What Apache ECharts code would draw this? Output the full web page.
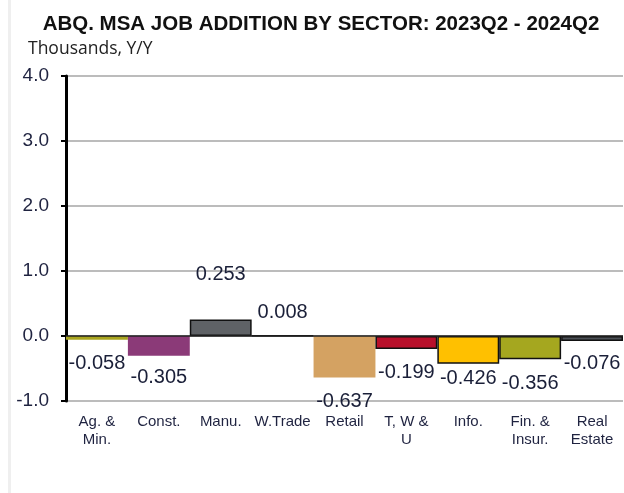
<!DOCTYPE html>
<html>
<head>
<meta charset="utf-8">
<script src="https://cdn.jsdelivr.net/npm/echarts@6/dist/echarts.min.js"></script>
<style>
  html, body { margin: 0; padding: 0; background: #ffffff; }
  #chart { width: 624px; height: 493px; }
</style>
</head>
<body>
<div id="chart"></div>
<script>
// Sector job additions, thousands Y/Y
const sectors = ['Ag. &\nMin.', 'Const.', 'Manu.', 'W.Trade', 'Retail', 'T, W &\nU', 'Info.', 'Fin. &\nInsur.', 'Real\nEstate'];
const changes = [-0.058, -0.305, 0.253, 0.008, -0.637, -0.199, -0.426, -0.356, -0.076];
const barColors = ['#a9a51f', '#8b3a78', '#5f6266', '#5f6266', '#d4a262', '#b8102b', '#ffc000', '#a5a71f', '#4d5157'];
const barOutlined = [false, false, true, true, false, true, true, true, true];
const labelGap = [14, 12, 35, 13, 14, 14, 5, 14, 13];
const yTicks = [-1, 0, 1, 2, 3, 4];

const chart = echarts.init(document.getElementById('chart'), null, { renderer: 'canvas' });

const barData = changes.map((v, i) => ({
  value: v,
  itemStyle: {
    color: barColors[i],
    borderColor: barOutlined[i] ? '#111111' : barColors[i],
    borderWidth: barOutlined[i] ? 1.5 : 0
  },
  label: {
    position: v >= 0 ? 'top' : 'bottom',
    distance: labelGap[i]
  }
}));

chart.setOption({
  backgroundColor: '#ffffff',
  animation: false,
  title: {
    text: 'ABQ. MSA JOB ADDITION BY SECTOR: 2023Q2 - 2024Q2',
    left: 316,
    textAlign: 'center',
    top: 9,
    textStyle: { fontFamily: 'Liberation Sans, Arial', fontWeight: 'bold', fontSize: 20.5, color: '#111111' }
  },
  graphic: [
    { type: 'rect', left: 8, top: 0, shape: { width: 3, height: 493 }, style: { fill: '#efefef' }, silent: true },
    {
      type: 'text', left: 28, top: 40,
      style: { text: 'Thousands, Y/Y', fontFamily: 'Open Sans', fontSize: 17.5, fill: '#222222' }
    }
  ],
  grid: { left: 66, right: 1, top: 76, bottom: 92, containLabel: false },
  xAxis: {
    type: 'category',
    data: sectors,
    axisLine: { show: false, onZero: false },
    axisTick: { show: false },
    axisLabel: {
      interval: 0,
      margin: 12,
      fontFamily: 'Liberation Sans, Arial',
      fontSize: 15,
      lineHeight: 18,
      color: '#1f2340'
    }
  },
  yAxis: {
    type: 'value',
    min: yTicks[0],
    max: yTicks[yTicks.length - 1],
    interval: 1,
    axisLine: { show: true, lineStyle: { color: '#000000', width: 3 } },
    axisTick: { show: true, inside: false, length: 5, lineStyle: { color: '#000000', width: 2 } },
    axisLabel: {
      margin: 17,
      fontFamily: 'Liberation Sans, Arial',
      fontSize: 19,
      color: '#1f2340',
      formatter: v => v.toFixed(1)
    },
    splitLine: { show: true, lineStyle: { color: '#a6a6a6', width: 1.5 } }
  },
  series: [{
    type: 'bar',
    data: barData,
    barCategoryGap: '0%',
    label: {
      show: true,
      fontFamily: 'Liberation Sans, Arial',
      fontSize: 20,
      color: '#1a1f38',
      formatter: p => p.value.toFixed(3)
    },
    markLine: {
      silent: true,
      symbol: 'none',
      label: { show: false },
      lineStyle: { color: '#222222', width: 1.5, type: 'solid' },
      data: [{ yAxis: 0 }]
    },
    z: 3
  }]
});
</script>
</body>
</html>
